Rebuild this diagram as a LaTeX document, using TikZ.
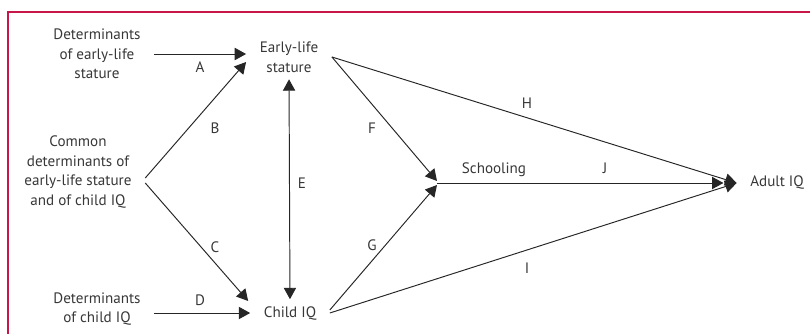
\documentclass[tikz,border=0pt]{standalone}
\usepackage{fontspec}
\setmainfont{PT Sans}
\usetikzlibrary{arrows.meta,positioning}
\definecolor{framered}{RGB}{200,22,72}
\definecolor{txtgray}{RGB}{55,55,55}

\begin{document}
\begin{tikzpicture}[
  x=0.02cm, y=-0.02cm,
  >={Triangle[length=6.5pt, width=7pt]},
  txt/.style={align=center, text=txtgray, font=\fontsize{8.6}{11.2}\selectfont, inner sep=1pt, outer xsep=6.8pt, outer ysep=0pt},
  tag/.style={text=txtgray, font=\fontsize{8.6}{10}\selectfont, inner sep=0pt},
  arrow/.style={->, line width=0.55pt, draw=black!85}
]
\useasboundingbox (0,0) rectangle (810,334);
\draw[framered, line width=0.6pt] (810,12) -- (8,12) -- (8,334);

\node[txt] (detstat) at (97,54) {Determinants\\of early-life\\stature};
\node[txt] (common) at (78,172) {Common\\determinants of\\early-life stature\\and of child IQ};
\node[txt] (detiq) at (97,309) {Determinants\\of child IQ};
\node[txt] (early) at (289,57) {Early-life\\stature};
\node[txt] (child) at (290,313) {Child IQ};
\coordinate (school) at (437,183);
\node[tag] (schooltxt) at (494,170) {Schooling};
\node[txt] (adult) at (777,183) {Adult IQ};

\node[tag] (tagA) at (200,67) {A};
\node[tag] (tagB) at (215,128) {B};
\node[tag] (tagC) at (215,247) {C};
\node[tag] (tagD) at (200,300) {D};
\node[tag] (tagE) at (302,183) {E};
\node[tag] (tagF) at (372,128) {F};
\node[tag] (tagG) at (372,245) {G};
\node[tag] (tagH) at (527,103) {H};
\node[tag] (tagI) at (527,268) {I};
\node[tag] (tagJ) at (605,168) {J};

\draw[arrow] (detstat.east) -- (detstat.east -| early.west);
\draw[arrow] ([shift={(0,6)}]common.east) -- ([shift={(0,5)}]early.west);
\draw[arrow] ([shift={(0,11)}]common.east) -- ([shift={(-2,-12)}]child.west);
\draw[arrow] (detiq.east |- child.west) -- (child.west);
\draw[arrow, <->, shorten <=3pt, shorten >=3pt] (early.south) -- (child.north);
\draw[arrow] (early.east) -- ([shift={(0,-2)}]school);
\draw[arrow] ([shift={(0,-3)}]child.east) -- ([shift={(0,2)}]school);
\draw[arrow] (early.east) -- (adult.west);
\draw[arrow] (child.east) -- (adult.west);
\draw[arrow] (school) -- ([xshift=-7.5pt]adult.west);
\end{tikzpicture}
\end{document}
